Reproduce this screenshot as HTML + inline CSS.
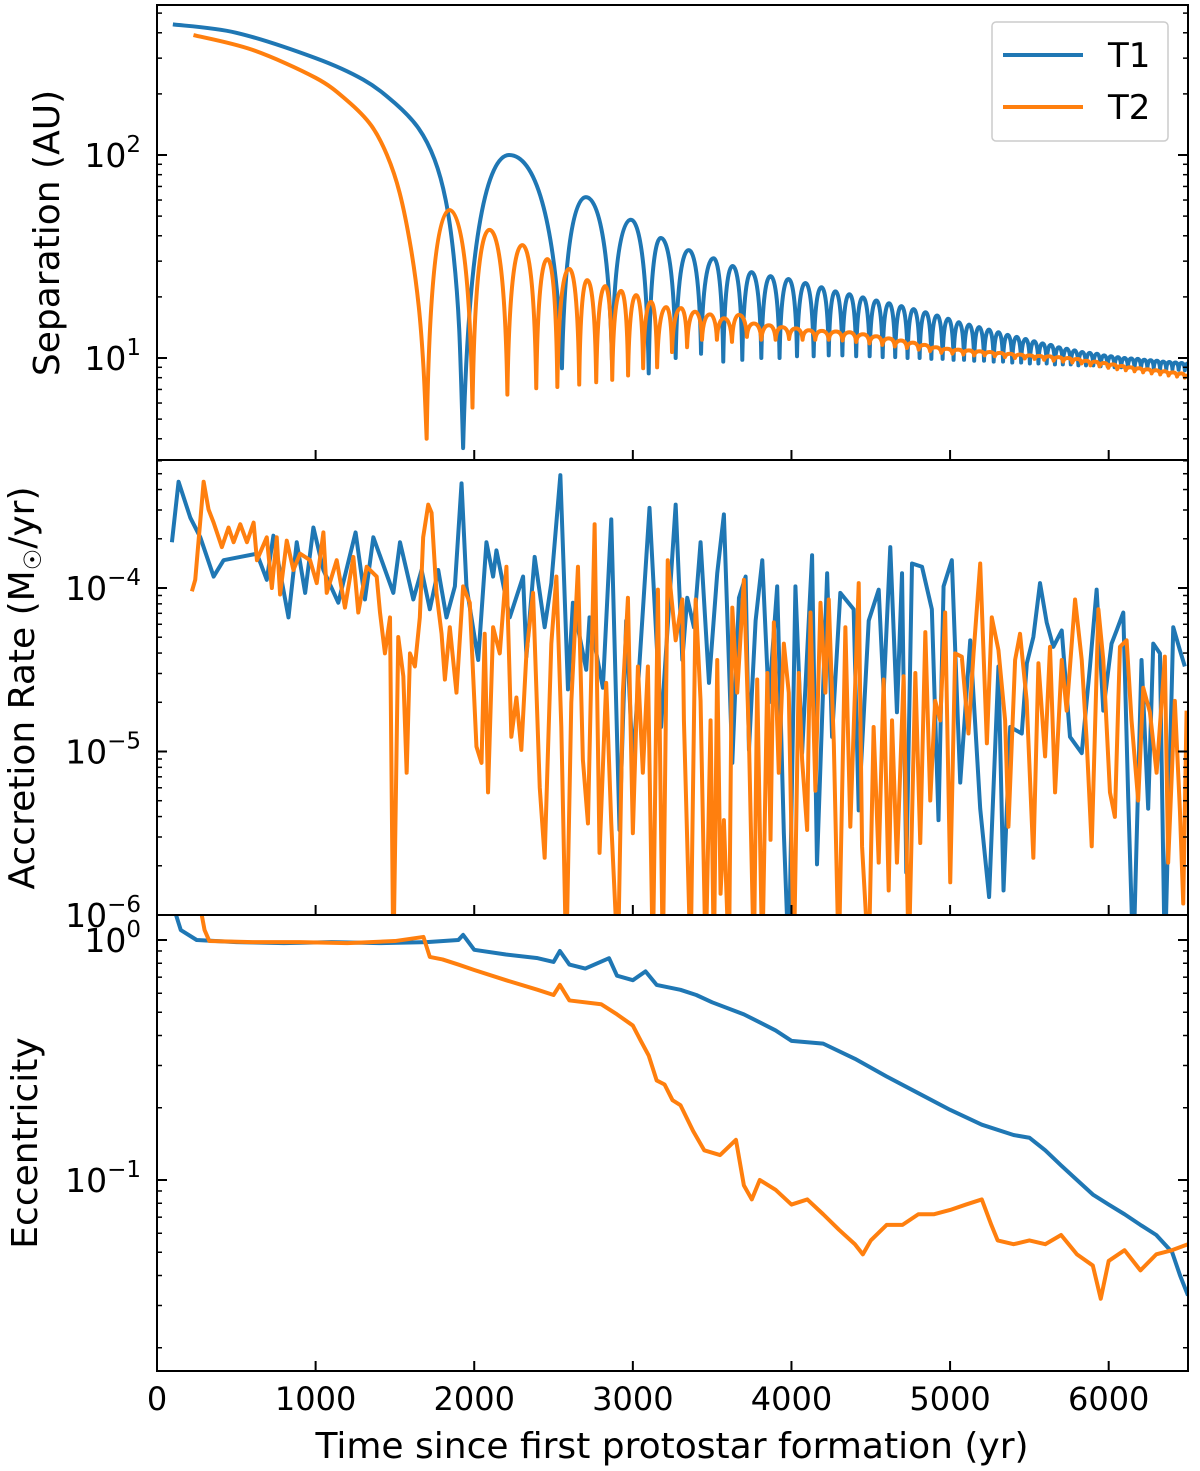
<!DOCTYPE html>
<html><head><meta charset="utf-8"><style>
html,body{margin:0;padding:0;background:#fff}
svg{display:block;font-family:"DejaVu Sans","Liberation Sans",sans-serif}
</style></head><body>
<svg id="chart" width="1200" height="1471" viewBox="0 0 1200 1471" xmlns="http://www.w3.org/2000/svg">
<defs>
<clipPath id="c1"><rect x="157" y="5" width="1031" height="455"/></clipPath>
<clipPath id="c2"><rect x="157" y="460" width="1031" height="455"/></clipPath>
<clipPath id="c3"><rect x="157" y="915" width="1031" height="456"/></clipPath>
</defs>
<g id="series"></g>
<g id="axes"></g>
<text x="0" y="0" transform="translate(59,233) rotate(-90)" text-anchor="middle" font-size="36">Separation (AU)</text>
<text x="0" y="0" transform="translate(34,688) rotate(-90)" text-anchor="middle" font-size="36">Accretion Rate (M<tspan font-size="24" dy="7">☉</tspan><tspan dy="-7">/yr)</tspan></text>
<text x="0" y="0" transform="translate(37,1143) rotate(-90)" text-anchor="middle" font-size="36">Eccentricity</text>
<text x="672" y="1458" text-anchor="middle" font-size="36">Time since first protostar formation (yr)</text>
<g>
<rect x="992" y="22" width="176" height="119" rx="4" fill="#fff" stroke="#ccc" stroke-width="1.5"/>
<line x1="1003" y1="55" x2="1083" y2="55" stroke="#1f77b4" stroke-width="4"/>
<text x="1108" y="67" font-size="34">T1</text>
<line x1="1003" y1="107" x2="1083" y2="107" stroke="#ff7f0e" stroke-width="4"/>
<text x="1108" y="119" font-size="34">T2</text>
</g>
</svg>
<script>
// ---- Separation data ----
const sepT1DescTime=[100,500,1000,1300,1500,1650,1750,1820,1870,1905,1930];
const sepT1DescVal=[440,400,300,235,180,135,95,60,32,14,3.6];
const sepT1ExtTime=[1930,2220,2553,2704,2868,2987,3100,3176,3270,3352,3430,3509,3570,3629,3690,3748,3810,3868,3925,3981,4035,4088,4140,4189,4235,4277,4321,4365,4408,4450,4493,4535,4575,4615,4654,4693,4732,4770,4808,4845,4882,4918,4953,4988,5022,5055,5088,5120,5152,5183,5214,5245,5275,5305,5334,5363,5392,5420,5448,5476,5503,5530,5557,5583,5609,5635,5661,5686,5711,5736,5761,5785,5809,5833,5857,5880,5903,5926,5949,5971,5993,6015,6037,6058,6079,6100,6121,6142,6163,6183,6204,6224,6244,6264,6284,6304,6324,6343,6363,6382,6402,6421,6441,6460,6480,6499];
const sepT1ExtVal=[3.6,100,8.9,62,9.8,48,8.4,39,10.0,34,10.5,31,9.6,28.4,9.8,26.5,10.0,25.3,10.0,24.5,10.2,23.4,10.2,22.3,10.3,21.3,10.3,20.6,10.2,19.9,10.2,19.2,10.1,18.6,10.1,18.0,10.0,17.4,10.0,16.8,9.9,16.2,9.9,15.6,9.8,15.0,9.8,14.6,9.7,14.2,9.7,13.8,9.6,13.4,9.6,13.0,9.5,12.7,9.5,12.4,9.4,12.1,9.4,11.8,9.4,11.6,9.3,11.3,9.3,11.1,9.3,10.9,9.2,10.7,9.2,10.6,9.2,10.5,9.1,10.3,9.1,10.2,9.0,10.1,9.0,10.0,9.0,9.95,8.9,9.9,8.9,9.8,8.9,9.75,8.9,9.7,8.8,9.6,8.8,9.55,8.8,9.5,8.75,9.45,8.7,9.4];
const sepT2DescTime=[230,600,1000,1200,1350,1450,1530,1600,1650,1680,1700];
const sepT2DescVal=[390,330,240,185,140,100,65,35,18,9,4];
const sepT2ExtTime=[1700,1844,1989,2096,2209,2303,2391,2461,2524,2599,2662,2712,2769,2826,2870,2926,2970,3021,3065,3115,3153,3210,3247,3304,3342,3392,3436,3486,3530,3575,3625,3669,3719,3763,3810,3858,3900,3940,3985,4028,4070,4110,4150,4191,4235,4280,4322,4365,4408,4450,4492,4533,4573,4613,4652,4690,4728,4765,4802,4838,4874,4910,4945,4980,5015,5050,5084,5118,5152,5185,5218,5250,5282,5314,5346,5377,5409,5440,5471,5502,5533,5563,5593,5623,5653,5683,5713,5742,5771,5800,5829,5857,5885,5914,5942,5970,5998,6026,6054,6081,6108,6136,6163,6190,6217,6244,6271,6298,6325,6351,6378,6404,6431,6457,6480,6500];
const sepT2ExtVal=[4,53.5,5.7,42.8,6.6,36,7.1,30.7,7.2,27.5,7.4,24.2,7.6,22.6,7.8,21.4,8.2,20.4,8.9,18.9,9.0,17.8,10.7,17.6,11.3,16.9,12.3,16.4,12.3,15.7,12.0,16.3,12.7,14.8,12.3,14.5,12.3,14.2,12.4,14.0,12.3,13.7,12.3,13.6,12.3,13.5,12.2,13.4,12.0,13.1,11.8,12.8,11.6,12.5,11.4,12.2,11.2,11.9,11.0,11.6,10.8,11.3,10.6,11.1,10.5,11.0,10.4,10.9,10.3,10.8,10.3,10.7,10.2,10.6,10.1,10.5,10.0,10.4,9.95,10.3,9.9,10.25,9.8,10.2,9.7,10.1,9.6,10.0,9.5,9.9,9.4,9.7,9.2,9.6,9.1,9.45,8.95,9.3,8.8,9.15,8.7,9.0,8.6,8.9,8.5,8.8,8.4,8.7,8.3,8.6,8.2,8.5,8.1,8.4,8.0,8.2];

// ---- Accretion rate data (log10 Msun/yr) ----
const accT1Time=[94,136,210,273,357,420,525,630,692,734,829,881,934,986,1049,1143,1252,1311,1364,1490,1532,1616,1668,1720,1773,1825,1878,1920,1951,2025,2077,2119,2140,2224,2308,2329,2381,2444,2486,2543,2591,2622,2706,2727,2811,2864,2916,2958,3000,3105,3178,3270,3312,3343,3385,3427,3480,3532,3574,3627,3669,3711,3732,3774,3816,3857,3910,3952,3983,4025,4067,4130,4161,4225,4256,4308,4392,4424,4487,4550,4581,4623,4665,4697,4724,4760,4823,4885,4927,4959,5011,5064,5127,5190,5246,5305,5337,5379,5452,5484,5525,5567,5609,5651,5704,5756,5830,5882,5924,5966,6018,6050,6092,6123,6155,6207,6249,6281,6323,6354,6407,6449,6480];
const accT1Log=[-3.72,-3.35,-3.57,-3.69,-3.93,-3.83,-3.81,-3.79,-3.95,-3.68,-4.18,-3.72,-4.03,-3.63,-3.89,-4.09,-3.66,-4.07,-3.69,-4.03,-3.72,-4.07,-3.89,-4.13,-3.89,-4.18,-3.99,-3.36,-3.99,-4.44,-3.72,-3.93,-3.77,-4.18,-3.93,-4.42,-3.81,-4.24,-3.97,-3.31,-4.62,-4.09,-4.50,-4.18,-4.61,-3.58,-5.48,-4.20,-5.09,-3.51,-4.85,-3.49,-4.44,-4.06,-4.24,-3.72,-4.58,-3.91,-3.55,-5.07,-4.06,-3.93,-4.99,-4.20,-3.83,-4.70,-3.99,-5.50,-6.3,-3.99,-5.01,-3.80,-5.69,-3.91,-4.91,-4.03,-4.13,-5.36,-4.20,-4.01,-4.64,-3.75,-4.76,-3.91,-5.74,-3.85,-3.87,-4.13,-5.42,-3.99,-3.83,-5.19,-4.32,-5.35,-5.89,-4.48,-5.85,-4.85,-4.89,-4.46,-4.30,-3.97,-4.21,-4.36,-4.26,-4.91,-5.01,-4.48,-4.01,-4.75,-4.34,-4.26,-4.15,-5.28,-6.3,-4.44,-5.35,-4.34,-4.40,-6.3,-4.24,-4.38,-4.48];
const accT2Time=[220,241,294,325,357,409,451,483,525,567,609,630,692,724,755,776,818,860,902,965,1007,1049,1070,1133,1185,1238,1269,1322,1385,1406,1437,1469,1490,1521,1553,1574,1595,1626,1657,1678,1710,1731,1762,1794,1815,1846,1888,1930,1972,2014,2046,2066,2087,2119,2161,2203,2234,2266,2297,2329,2371,2413,2444,2486,2518,2549,2580,2612,2654,2685,2717,2759,2790,2832,2864,2906,2937,2969,3000,3032,3063,3095,3126,3158,3189,3220,3270,3312,3322,3364,3396,3427,3459,3490,3511,3532,3553,3574,3606,3627,3658,3700,3732,3763,3784,3816,3848,3868,3889,3920,3952,3983,4015,4046,4067,4099,4120,4151,4183,4214,4235,4267,4298,4340,4371,4424,4445,4487,4518,4550,4581,4613,4634,4665,4707,4739,4781,4812,4844,4875,4906,4938,4969,5001,5032,5074,5116,5148,5190,5232,5263,5305,5347,5368,5410,5441,5483,5525,5557,5599,5630,5662,5704,5735,5788,5830,5861,5893,5935,5966,6008,6039,6071,6113,6144,6186,6218,6260,6302,6354,6375,6417,6449,6470,6491];
const accT2Log=[-4.02,-3.95,-3.35,-3.52,-3.60,-3.75,-3.63,-3.72,-3.61,-3.72,-3.60,-3.83,-3.69,-4.00,-3.69,-4.04,-3.71,-3.89,-3.79,-3.83,-3.97,-3.66,-4.03,-3.83,-4.12,-3.81,-4.15,-3.87,-3.93,-4.15,-4.40,-4.18,-6.3,-4.30,-4.54,-5.13,-4.40,-4.48,-4.18,-3.69,-3.49,-3.54,-4.03,-4.28,-4.56,-4.24,-4.64,-3.99,-4.09,-4.97,-5.07,-4.28,-5.25,-4.24,-4.40,-3.87,-4.91,-4.67,-4.99,-4.40,-4.03,-5.22,-5.65,-4.34,-3.93,-4.85,-6.3,-4.70,-3.87,-5.05,-5.44,-3.61,-5.62,-4.58,-5.44,-6.3,-4.64,-4.06,-5.50,-4.48,-5.13,-4.48,-6.3,-4.01,-6.3,-3.83,-4.32,-4.07,-4.81,-6.3,-4.07,-4.69,-6.3,-4.81,-6.3,-4.44,-5.87,-5.42,-6.3,-4.12,-4.64,-3.95,-4.93,-6.3,-4.56,-6.3,-4.52,-5.54,-4.21,-5.13,-4.34,-4.64,-6.3,-4.52,-5.05,-5.48,-4.15,-5.24,-4.09,-4.64,-4.07,-4.95,-6.3,-4.24,-5.46,-3.97,-5.58,-6.3,-4.85,-5.68,-4.56,-5.85,-4.81,-5.68,-4.54,-6.3,-4.52,-5.56,-4.27,-5.30,-4.69,-4.81,-4.15,-5.80,-4.40,-4.42,-4.89,-4.40,-3.85,-4.95,-4.18,-4.38,-4.81,-5.46,-4.44,-4.28,-4.69,-5.65,-4.46,-5.03,-4.36,-5.25,-4.44,-4.75,-4.07,-4.44,-4.93,-5.58,-4.13,-4.44,-5.25,-5.40,-4.36,-4.32,-4.81,-5.30,-4.61,-4.76,-5.13,-4.42,-5.68,-4.69,-5.36,-5.93,-4.75];

// ---- Eccentricity data ----
const eccT1Time=[100,150,250,500,800,1100,1400,1700,1900,1930,2000,2200,2400,2500,2540,2600,2700,2850,2900,3000,3080,3150,3300,3400,3500,3700,3900,4000,4200,4400,4600,4800,5000,5200,5400,5500,5600,5700,5800,5900,6000,6100,6200,6300,6400,6450,6500];
const eccT1Val=[1.4,1.1,1.0,0.98,0.97,0.98,0.97,0.98,1.0,1.05,0.91,0.87,0.84,0.81,0.9,0.79,0.76,0.84,0.71,0.68,0.74,0.65,0.62,0.59,0.55,0.49,0.42,0.38,0.37,0.32,0.27,0.23,0.196,0.17,0.154,0.15,0.133,0.115,0.1,0.087,0.079,0.072,0.065,0.059,0.05,0.04,0.033];
const eccT2Time=[270,300,330,600,900,1200,1500,1680,1720,1800,1900,2000,2200,2400,2500,2540,2600,2800,2900,3000,3050,3100,3150,3200,3250,3300,3380,3450,3550,3650,3700,3750,3800,3900,4000,4100,4200,4300,4400,4450,4500,4600,4700,4800,4900,5000,5100,5200,5260,5300,5400,5500,5600,5700,5800,5900,5950,6000,6100,6200,6300,6400,6500];
const eccT2Val=[1.4,1.1,0.99,0.98,0.98,0.97,0.99,1.03,0.85,0.83,0.79,0.75,0.68,0.62,0.59,0.65,0.56,0.54,0.49,0.44,0.38,0.33,0.26,0.25,0.215,0.205,0.16,0.133,0.127,0.147,0.095,0.083,0.1,0.091,0.079,0.083,0.072,0.062,0.054,0.049,0.056,0.065,0.065,0.072,0.072,0.075,0.079,0.083,0.065,0.056,0.054,0.056,0.054,0.059,0.049,0.044,0.032,0.046,0.051,0.042,0.049,0.051,0.054];

const NS="http://www.w3.org/2000/svg";
const C1="#1f77b4", C2="#ff7f0e";
const L=157,R=1188;
function X(t){return L+(t/6500)*(R-L);}
function Y1(v){return 155-203*(Math.log10(v)-2);}
function Y2(lg){return 588-163.5*(lg+4);}
function Y3(e){return 940-240*Math.log10(e);}
const series=document.getElementById('series');
const axes=document.getElementById('axes');
function mk(tag,attrs,parent){const e=document.createElementNS(NS,tag);for(const k in attrs)e.setAttribute(k,attrs[k]);parent.appendChild(e);return e;}
function poly(ts,vs,fy){return ts.map((t,i)=>(i?'L':'M')+X(t).toFixed(2)+','+fy(vs[i]).toFixed(2)).join(' ');}
// smooth Catmull-Rom path through the data points
function smooth(ts,vs,fy){
  const P=ts.map((t,i)=>[X(t),fy(vs[i])]);
  let d='M'+P[0][0].toFixed(2)+','+P[0][1].toFixed(2);
  for(let i=0;i<P.length-1;i++){
    const p0=P[Math.max(0,i-1)],p1=P[i],p2=P[i+1],p3=P[Math.min(P.length-1,i+2)];
    const c1=[p1[0]+(p2[0]-p0[0])/6,p1[1]+(p2[1]-p0[1])/6];
    const c2=[p2[0]-(p3[0]-p1[0])/6,p2[1]-(p3[1]-p1[1])/6];
    d+=' C'+c1[0].toFixed(2)+','+c1[1].toFixed(2)+' '+c2[0].toFixed(2)+','+c2[1].toFixed(2)+' '+p2[0].toFixed(2)+','+p2[1].toFixed(2);
  }
  return d;
}
function orbit(ts,vs){
  let d='M'+X(ts[0]).toFixed(2)+','+Y1(vs[0]).toFixed(2);
  for(let i=1;i<ts.length;i++){
    const x0=X(ts[i-1]),y0=Y1(vs[i-1]),x1=X(ts[i]),y1=Y1(vs[i]),dx=x1-x0;
    if(y1<y0){
      d+=' C'+(x0+0.12*dx).toFixed(2)+','+(y1+0.25*(y0-y1)).toFixed(2)+' '+(x1-0.45*dx).toFixed(2)+','+y1.toFixed(2)+' '+x1.toFixed(2)+','+y1.toFixed(2);
    }else{
      d+=' C'+(x0+0.45*dx).toFixed(2)+','+y0.toFixed(2)+' '+(x1-0.12*dx).toFixed(2)+','+(y0+0.25*(y1-y0)).toFixed(2)+' '+x1.toFixed(2)+','+y1.toFixed(2);
    }
  }
  return d;
}
function path(d,color,clip,name){
  const p=mk('path',{d:d,fill:'none',stroke:color,'stroke-width':4,'stroke-linejoin':'round','clip-path':'url(#'+clip+')'},series);
  
  
}
path(smooth(sepT1DescTime,sepT1DescVal,Y1)+' '+orbit(sepT1ExtTime,sepT1ExtVal).replace(/^M/,'L'),C1,'c1','separation-t1-line');
path(smooth(sepT2DescTime,sepT2DescVal,Y1)+' '+orbit(sepT2ExtTime,sepT2ExtVal).replace(/^M/,'L'),C2,'c1','separation-t2-line');
path(poly(accT1Time,accT1Log,Y2),C1,'c2','accretion-t1-line');
path(poly(accT2Time,accT2Log,Y2),C2,'c2','accretion-t2-line');
path(poly(eccT1Time,eccT1Val,Y3),C1,'c3','eccentricity-t1-line');
path(poly(eccT2Time,eccT2Val,Y3),C2,'c3','eccentricity-t2-line');

const panels=[[5,460],[460,915],[915,1371]];
panels.forEach((p,i)=>{
  const r=mk('rect',{x:L,y:p[0],width:R-L,height:p[1]-p[0],fill:'none',stroke:'#000','stroke-width':2},axes);
  
  
  for(let t=0;t<=6000;t+=1000){
    const x=X(t);
    const tk=mk('line',{x1:x,y1:p[1],x2:x,y2:p[1]-10,stroke:'#000','stroke-width':2},axes);
    
    
  }
});
const xTickLabels=['0','1000','2000','3000','4000','5000','6000'];
xTickLabels.forEach((s,i)=>{
  const t=mk('text',{x:X(i*1000),y:1410,'text-anchor':'middle','font-size':32},axes);
  t.textContent=s;
  
  
});
function yTicks(fy,lo,hi,top,bot){
  for(let e=-7;e<=3;e++){
    for(let m=1;m<=9;m++){
      const v=m*Math.pow(10,e);
      if(v<lo||v>hi)continue;
      const y=fy(v); if(y<top-0.5||y>bot+0.5)continue;
      const len=m===1?10:5;
      const a=mk('line',{x1:L,y1:y,x2:L+len,y2:y,stroke:'#000','stroke-width':m===1?2:1.5},axes);
      
      
      const b=mk('line',{x1:R,y1:y,x2:R-len,y2:y,stroke:'#000','stroke-width':m===1?2:1.5},axes);
      
      
    }
  }
}
yTicks(Y1,3,600,5,460);
yTicks(v=>Y2(Math.log10(v)),1e-6,1e-3,460,915);
yTicks(Y3,0.01,2,915,1371);
function yLabel(y,exp,name){
  const t=mk('text',{x:141,y:y+12,'text-anchor':'end','font-size':33},axes);
  
  
  t.appendChild(document.createTextNode('10'));
  const s=mk('tspan',{'font-size':23,dy:-15},t);
  s.textContent=exp;
}
const sepTickLabels=['2','1'];
yLabel(Y1(100),sepTickLabels[0],'y-tick-label-sep');
yLabel(Y1(10),sepTickLabels[1],'y-tick-label-sep');
const accTickLabels=['\u22124','\u22125','\u22126'];
yLabel(Y2(-4),accTickLabels[0],'y-tick-label-acc');
yLabel(Y2(-5),accTickLabels[1],'y-tick-label-acc');
yLabel(Y2(-6),accTickLabels[2],'y-tick-label-acc');
const eccTickLabels=['0','\u22121'];
yLabel(Y3(1),eccTickLabels[0],'y-tick-label-ecc');
yLabel(Y3(0.1),eccTickLabels[1],'y-tick-label-ecc');
</script>
</body></html>
